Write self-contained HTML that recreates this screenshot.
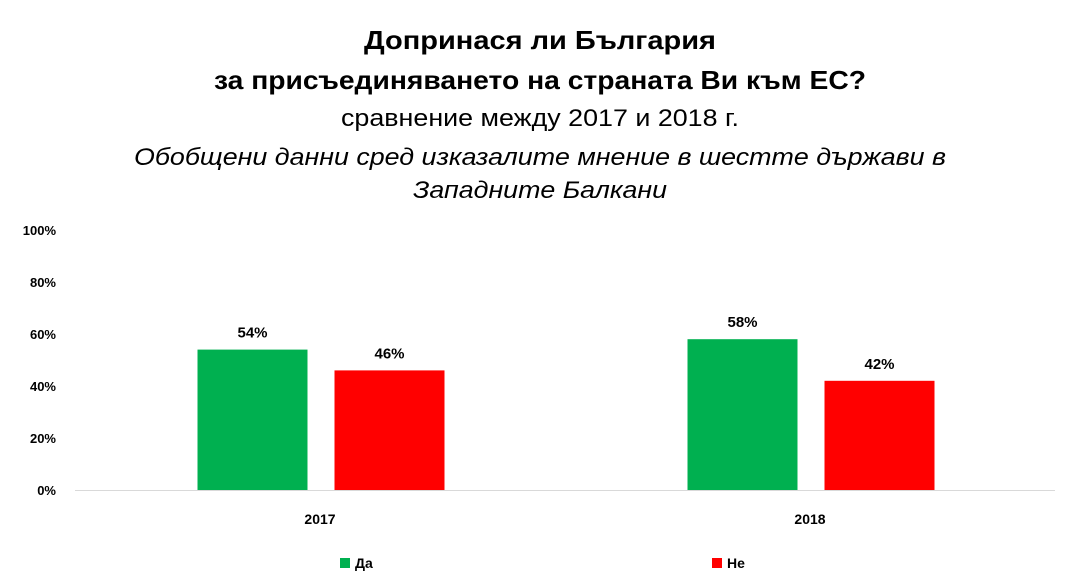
<!DOCTYPE html>
<html><head><meta charset="utf-8"><style>
html,body{margin:0;padding:0;background:#fff;}
svg{display:block;font-family:"Liberation Sans",sans-serif;}
</style></head><body>
<svg id="chart" width="1078" height="587" viewBox="0 0 1078 587">
<g>
<text x="540" y="49" text-anchor="middle" font-size="26" font-weight="bold" textLength="352" lengthAdjust="spacingAndGlyphs">Допринася ли България</text>
<text x="540" y="89" text-anchor="middle" font-size="26" font-weight="bold" textLength="652" lengthAdjust="spacingAndGlyphs">за присъединяването на страната Ви към ЕС?</text>
<text x="540" y="126" text-anchor="middle" font-size="24" textLength="398" lengthAdjust="spacingAndGlyphs">сравнение между 2017 и 2018 г.</text>
<text x="540" y="165" text-anchor="middle" font-size="24" font-style="italic" textLength="812" lengthAdjust="spacingAndGlyphs">Обобщени данни сред изказалите мнение в шестте държави в</text>
<text x="540" y="198" text-anchor="middle" font-size="24" font-style="italic" textLength="254" lengthAdjust="spacingAndGlyphs">Западните Балкани</text>
</g>
<g id="yaxis"></g>
<g id="bars"></g>
<line x1="75" y1="490.5" x2="1055" y2="490.5" stroke="#d9d9d9" stroke-width="1"/>
<g id="xaxis"></g>
<g>
<g><rect x="340" y="558" width="10" height="10" fill="#00b050"/><text x="355" y="568" font-size="14" font-weight="bold">Да</text></g>
<g><rect x="712" y="558" width="10" height="10" fill="#ff0000"/><text x="727" y="568" font-size="14" font-weight="bold">Не</text></g>
</g>
</svg>
<script>
const categories = ["2017", "2018"];
const yesValues = [54, 58];
const noValues = [46, 42];
const yTicks = [0, 20, 40, 60, 80, 100];
const ns = "http://www.w3.org/2000/svg";
const x0 = 75, x1 = 1055, yBase = 490, yTop = 230;
const y = v => yBase - (v / 100) * (yBase - yTop);
const groupW = (x1 - x0) / categories.length;
const barW = 110, gap = 29;
function mk(tag, attrs, parent) { const e = document.createElementNS(ns, tag); for (const k in attrs) e.setAttribute(k, attrs[k]); parent.appendChild(e); return e; }
const ya = document.getElementById('yaxis');
yTicks.forEach(t => {
  const tx = mk('text', {x: 56, y: y(t) + 5, 'text-anchor': 'end', 'font-size': 13, 'font-weight': 'bold'}, ya);
  
  
  tx.textContent = t + '%';
});
const bg = document.getElementById('bars');
const xa = document.getElementById('xaxis');
categories.forEach((c, i) => {
  const cx = x0 + groupW * (i + 0.5);
  [[yesValues[i], '#00b050', -1, 'yes'], [noValues[i], '#ff0000', 1, 'no']].forEach(([v, col, side, nm]) => {
    const bx = side < 0 ? cx - gap / 2 - barW + 2 : cx + gap / 2 - 2 + 2;
    const r = mk('rect', {x: bx, y: y(v), width: barW, height: yBase - y(v), fill: col}, bg);
    
    
    const lt = mk('text', {x: bx + barW / 2, y: y(v) - 12, 'text-anchor': 'middle', 'font-size': 15, 'font-weight': 'bold'}, bg);
    
    
    lt.textContent = v + '%';
  });
  const xt = mk('text', {x: cx, y: 524, 'text-anchor': 'middle', 'font-size': 14, 'font-weight': 'bold'}, xa);
  
  
  xt.textContent = c;
});
</script>
</body></html>
